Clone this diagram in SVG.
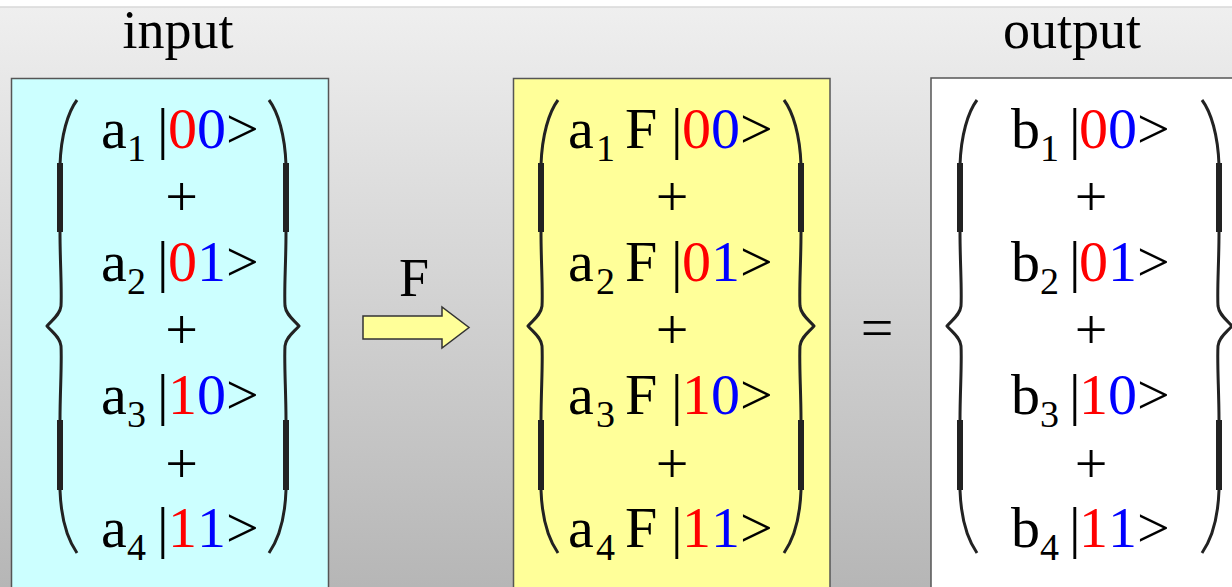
<svg xmlns="http://www.w3.org/2000/svg" xmlns:xlink="http://www.w3.org/1999/xlink" width="1232" height="587" viewBox="0 0 1232 587">
<style>
text{font-family:"Liberation Serif","Times New Roman",serif;fill:#000}
.t{font-size:58px}
.s{font-size:38px}
.lbl{font-size:54px;text-anchor:middle}
.pl{font-size:58px;text-anchor:middle}
.r{fill:#ff0000}
.b{fill:#0000ff}
.box{stroke:#555;stroke-width:1.5}
.br{fill:none;stroke:#222;stroke-width:3;stroke-linejoin:round}
.bt{fill:none;stroke:#222;stroke-width:6}
</style>
<defs>
<linearGradient id="bg" x1="0" y1="0" x2="0" y2="1">
<stop offset="0" stop-color="#efefef"/>
<stop offset="1" stop-color="#b6b6b6"/>
</linearGradient>
<g id="brace">
<path class="br" d="M77,100 C68,112 61,135 60,165 L60,232 C60,262 62,290 61,306 C60,315 52,320 47,326 C52,332 60,337 61,346 C62,362 60,392 60,420 L60,490 C61,520 68,540 77,553"/>
<path class="bt" d="M60,163 L60,232 M60,420 L60,490"/>
</g>
</defs>
<rect x="0" y="0" width="1232" height="587" fill="#ffffff"/>
<rect x="0" y="7" width="1232" height="580" fill="url(#bg)"/>
<line x1="0" y1="7" x2="1232" y2="7" stroke="#d8d8d8" stroke-width="1.5"/>

<g id="label-input"><text class="lbl" x="178" y="48">input</text></g>
<g id="label-output"><text class="lbl" x="1072" y="48">output</text></g>

<g id="node-input">
<rect class="box" x="11.5" y="78.5" width="317" height="520" fill="#ccffff"/>
<use xlink:href="#brace"/>
<use xlink:href="#brace" transform="translate(346,0) scale(-1,1)"/>
<text class="t" y="148"><tspan x="101">a</tspan><tspan class="s" x="127" y="161">1</tspan><tspan x="157" y="148">|</tspan><tspan class="r" x="168">0</tspan><tspan class="b" x="197">0</tspan><tspan x="226">&gt;</tspan></text>
<text class="pl" x="181.5" y="216">+</text>
<text class="t" y="281"><tspan x="101">a</tspan><tspan class="s" x="127" y="294">2</tspan><tspan x="157" y="281">|</tspan><tspan class="r" x="168">0</tspan><tspan class="b" x="197">1</tspan><tspan x="226">&gt;</tspan></text>
<text class="pl" x="181.5" y="349">+</text>
<text class="t" y="414"><tspan x="101">a</tspan><tspan class="s" x="127" y="427">3</tspan><tspan x="157" y="414">|</tspan><tspan class="r" x="168">1</tspan><tspan class="b" x="197">0</tspan><tspan x="226">&gt;</tspan></text>
<text class="pl" x="181.5" y="483">+</text>
<text class="t" y="547"><tspan x="101">a</tspan><tspan class="s" x="127" y="560">4</tspan><tspan x="157" y="547">|</tspan><tspan class="r" x="168">1</tspan><tspan class="b" x="197">1</tspan><tspan x="226">&gt;</tspan></text>
</g>

<g id="node-F">
<rect class="box" x="513.5" y="78.5" width="316.5" height="520" fill="#ffff99"/>
<use xlink:href="#brace" transform="translate(481,0)"/>
<use xlink:href="#brace" transform="translate(861,0) scale(-1,1)"/>
<text class="t" y="148"><tspan x="568">a</tspan><tspan class="s" x="596" y="161">1</tspan><tspan x="625" y="148">F</tspan><tspan x="671">|</tspan><tspan class="r" x="682">0</tspan><tspan class="b" x="711">0</tspan><tspan x="740">&gt;</tspan></text>
<text class="pl" x="672" y="216">+</text>
<text class="t" y="281"><tspan x="568">a</tspan><tspan class="s" x="596" y="294">2</tspan><tspan x="625" y="281">F</tspan><tspan x="671">|</tspan><tspan class="r" x="682">0</tspan><tspan class="b" x="711">1</tspan><tspan x="740">&gt;</tspan></text>
<text class="pl" x="672" y="349">+</text>
<text class="t" y="414"><tspan x="568">a</tspan><tspan class="s" x="596" y="427">3</tspan><tspan x="625" y="414">F</tspan><tspan x="671">|</tspan><tspan class="r" x="682">1</tspan><tspan class="b" x="711">0</tspan><tspan x="740">&gt;</tspan></text>
<text class="pl" x="672" y="483">+</text>
<text class="t" y="547"><tspan x="568">a</tspan><tspan class="s" x="596" y="560">4</tspan><tspan x="625" y="547">F</tspan><tspan x="671">|</tspan><tspan class="r" x="682">1</tspan><tspan class="b" x="711">1</tspan><tspan x="740">&gt;</tspan></text>
</g>

<g id="node-output">
<rect class="box" x="931" y="78" width="320" height="520" fill="#ffffff"/>
<use xlink:href="#brace" transform="translate(900,0)"/>
<use xlink:href="#brace" transform="translate(1279,0) scale(-1,1)"/>
<text class="t" y="148"><tspan x="1011">b</tspan><tspan class="s" x="1040" y="161">1</tspan><tspan x="1069" y="148">|</tspan><tspan class="r" x="1079">0</tspan><tspan class="b" x="1108">0</tspan><tspan x="1137">&gt;</tspan></text>
<text class="pl" x="1091" y="216">+</text>
<text class="t" y="281"><tspan x="1011">b</tspan><tspan class="s" x="1040" y="294">2</tspan><tspan x="1069" y="281">|</tspan><tspan class="r" x="1079">0</tspan><tspan class="b" x="1108">1</tspan><tspan x="1137">&gt;</tspan></text>
<text class="pl" x="1091" y="349">+</text>
<text class="t" y="414"><tspan x="1011">b</tspan><tspan class="s" x="1040" y="427">3</tspan><tspan x="1069" y="414">|</tspan><tspan class="r" x="1079">1</tspan><tspan class="b" x="1108">0</tspan><tspan x="1137">&gt;</tspan></text>
<text class="pl" x="1091" y="483">+</text>
<text class="t" y="547"><tspan x="1011">b</tspan><tspan class="s" x="1040" y="560">4</tspan><tspan x="1069" y="547">|</tspan><tspan class="r" x="1079">1</tspan><tspan class="b" x="1108">1</tspan><tspan x="1137">&gt;</tspan></text>
</g>

<g id="connectors">
<g id="arrow-F">
<path d="M363,316 L442,316 L442,307 L469,327.5 L442,348 L442,339 L363,339 Z" fill="#ffff99" stroke="#333" stroke-width="1.5" stroke-linejoin="miter"/>
<text class="lbl" x="414" y="296">F</text>
</g>
<g id="equals"><text class="pl" x="877" y="347">=</text></g>
</g>
</svg>
